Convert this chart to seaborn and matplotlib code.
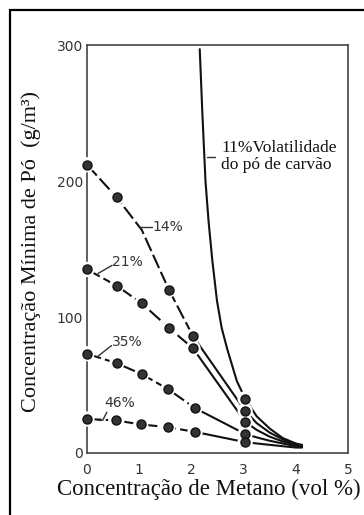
import matplotlib
matplotlib.use("Agg")
import matplotlib.pyplot as plt
from matplotlib.patches import Rectangle
import pandas as pd
import seaborn as sns

# Volatile-matter fraction of each coal-dust curve
labels = ["11%", "14%", "21%", "35%", "46%"]

# Measured points (methane vol %, minimum dust concentration g/m3)
x14 = [0, 0.57, 1.57, 2.03, 3.03]
y14 = [212, 188, 120, 86, 31]
x21 = [0, 0.57, 1.05, 1.57, 2.03, 3.03]
y21 = [135, 123, 110, 92, 77, 23]
x35 = [0, 0.57, 1.05, 1.55, 2.07, 3.03]
y35 = [73, 66, 58, 47, 33, 14]
x46 = [0, 0.55, 1.03, 1.55, 2.07, 3.03]
y46 = [25, 24, 21, 19, 15.5, 8]
x11 = [3.03]
y11 = [40]

# Curve traces: dashed part across the low-methane points
dash14_x = [0, 0.57, 1.05, 1.57, 2.03]
dash14_y = [212, 188, 164, 120, 86]
dash21_x = [0, 0.57, 1.05, 1.57, 2.03]
dash21_y = [135, 123, 110, 92, 77]
dash35_x = [0, 0.57, 1.05, 1.55, 2.07]
dash35_y = [73, 66, 58, 47, 33]
dash46_x = [0, 0.55, 1.03, 1.55, 2.07]
dash46_y = [25, 24, 21, 19, 15.5]

# Solid part of the curves toward the lower explosive limit of methane
solid11_x = [2.16, 2.21, 2.27, 2.33, 2.40, 2.49, 2.58, 2.69, 2.87, 3.03, 3.25, 3.5, 3.75, 4.0, 4.12]
solid11_y = [297, 250, 200, 170, 142, 112, 92, 76, 53, 40, 27, 18, 11, 7, 6]
solid14_x = [2.03, 3.03, 3.25, 3.5, 3.75, 4.0, 4.12]
solid14_y = [86, 31, 22, 15, 10, 6.5, 5.5]
solid21_x = [2.03, 3.03, 3.25, 3.5, 3.75, 4.0, 4.12]
solid21_y = [77, 23, 17, 12, 8.5, 6, 5]
solid35_x = [2.07, 3.03, 3.25, 3.5, 3.75, 4.0, 4.12]
solid35_y = [33, 14, 11.5, 9, 7, 5, 4.5]
solid46_x = [2.07, 3.03, 3.25, 3.5, 3.75, 4.0, 4.12]
solid46_y = [15.5, 8, 7, 6, 5, 4, 4]

x_ticks = [0, 1, 2, 3, 4, 5]
y_ticks = [0, 100, 200, 300]

sns.set_style("white")
plt.rcParams["font.family"] = ["DejaVu Sans"]

fig = plt.figure(figsize=(3.64, 5.15), dpi=100)
ax = fig.add_axes([0.239, 0.1204, 0.717, 0.792])

line_color = "#111111"
lw = 1.5

dashed = [(dash14_x, dash14_y), (dash21_x, dash21_y), (dash35_x, dash35_y), (dash46_x, dash46_y)]
solid = [(solid11_x, solid11_y), (solid14_x, solid14_y), (solid21_x, solid21_y),
         (solid35_x, solid35_y), (solid46_x, solid46_y)]

for xs, ys in dashed:
    df = pd.DataFrame({"x": xs, "y": ys})
    sns.lineplot(data=df, x="x", y="y", ax=ax, sort=False, estimator=None,
                 color=line_color, linewidth=lw, linestyle=(0, (7.0, 2.0)))
for xs, ys in solid:
    df = pd.DataFrame({"x": xs, "y": ys})
    sns.lineplot(data=df, x="x", y="y", ax=ax, sort=False, estimator=None,
                 color=line_color, linewidth=lw)

pts = pd.DataFrame({
    "x": x11 + x14 + x21 + x35 + x46,
    "y": y11 + y14 + y21 + y35 + y46,
})
# white halo opens a gap in the curve around each point
sns.scatterplot(data=pts, x="x", y="y", ax=ax, s=11 ** 2, color="white",
                edgecolor="none", clip_on=False, zorder=4)
sns.scatterplot(data=pts, x="x", y="y", ax=ax, s=6.5 ** 2, color="#333333",
                edgecolor="#111111", linewidth=1.0, clip_on=False, zorder=5)

# curve labels with leader lines
lab_color = "#333333"
leader_kw = dict(color="#333333", linewidth=1.0)
ax.plot([1.01, 1.25], [166, 166], **leader_kw)
ax.text(1.26, 166, labels[1], fontsize=10, color=lab_color, va="center", ha="left")
ax.plot([0.21, 0.48], [132, 138], **leader_kw)
ax.text(0.48, 140.5, labels[2], fontsize=10, color=lab_color, va="center", ha="left")
ax.plot([0.19, 0.47], [70.6, 79], **leader_kw)
ax.text(0.47, 82, labels[3], fontsize=10, color=lab_color, va="center", ha="left")
ax.plot([0.21, 0.30, 0.38], [24, 24, 30], **leader_kw)
ax.text(0.33, 37, labels[4], fontsize=10, color=lab_color, va="center", ha="left")

ax.plot([2.29, 2.45], [218, 218], **leader_kw)
ax.text(2.57, 218, labels[0] + "Volatilidade\ndo pó de carvão", fontsize=12.5,
        family=["Liberation Serif", "DejaVu Serif"], color="#111111",
        va="center", ha="left", linespacing=1.1)

ax.set_xlim(0, 5)
ax.set_ylim(0, 300)
ax.set_xticks(x_ticks)
ax.set_yticks(y_ticks)
ax.set_xticklabels([str(v) for v in x_ticks])
ax.set_yticklabels([str(v) for v in y_ticks])
ax.tick_params(axis="both", direction="in", length=6, width=1.2, colors="#444444",
               labelcolor="#333333", labelsize=10)
ax.tick_params(axis="x", pad=7)
ax.tick_params(axis="y", pad=3)
for sp in ax.spines.values():
    sp.set_color("#444444")
    sp.set_linewidth(1.2)
    sp.set_visible(True)

serif = ["Liberation Serif", "DejaVu Serif"]
ax.set_xlabel("Concentração de Metano (vol %)", fontsize=16.5, family=serif, color="#111111")
ax.set_ylabel("Concentração Mínima de Pó  (g/m³)", fontsize=16, family=serif, color="#111111")
ax.xaxis.set_label_coords(0.466, -0.063)
ax.yaxis.set_label_coords(-0.175, 0.495)

# outer border of the figure panel
fig.patches.append(Rectangle((10 / 364, -0.05), 1.1, 1 - 10 / 515 + 0.05,
                             transform=fig.transFigure, fill=False,
                             edgecolor="black", linewidth=1.6))

fig.savefig("out.png", dpi=100)
